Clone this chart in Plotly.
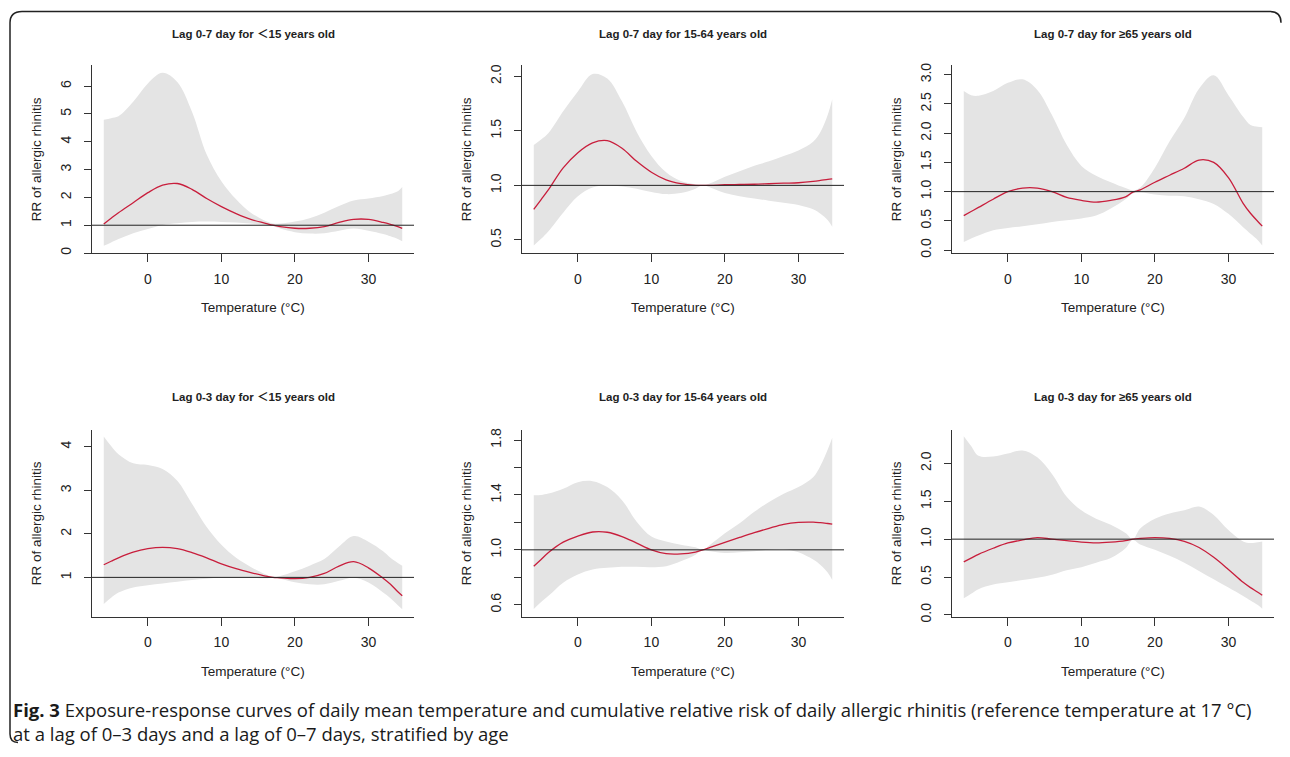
import plotly.graph_objects as go

# ---------------- data ----------------
TEMP = [-6, -5, -4, -2, 0, 2, 4, 6, 8, 10, 12, 14, 16, 17, 18, 20, 22, 24, 26, 28, 30, 32, 33, 34, 34.6]

# Lag 0-7, <15 years
rr_07_u15 = [1.04, 1.25, 1.45, 1.81, 2.17, 2.44, 2.50, 2.29, 1.96, 1.67, 1.42, 1.21, 1.07, 1.00, 0.95, 0.89, 0.89, 0.95, 1.10, 1.21, 1.21, 1.10, 1.03, 0.95, 0.89]
hi_07_u15 = [4.79, 4.85, 4.92, 5.44, 6.10, 6.48, 6.15, 5.08, 3.54, 2.58, 1.93, 1.45, 1.15, 1.06, 1.06, 1.13, 1.25, 1.45, 1.69, 1.89, 1.96, 2.05, 2.12, 2.22, 2.37]
lo_07_u15 = [0.26, 0.38, 0.50, 0.71, 0.86, 1.01, 1.07, 1.12, 1.13, 1.12, 1.10, 1.06, 1.01, 0.97, 0.88, 0.75, 0.70, 0.71, 0.80, 0.88, 0.80, 0.68, 0.60, 0.50, 0.42]

# Lag 0-7, 15-64 years
rr_07_mid = [0.78, 0.87, 0.96, 1.16, 1.30, 1.39, 1.41, 1.34, 1.22, 1.12, 1.05, 1.015, 1.00, 1.00, 1.00, 1.006, 1.008, 1.01, 1.015, 1.02, 1.024, 1.036, 1.045, 1.055, 1.06]
hi_07_mid = [1.37, 1.42, 1.48, 1.68, 1.86, 2.02, 1.98, 1.77, 1.49, 1.27, 1.12, 1.04, 1.01, 1.00, 1.02, 1.08, 1.13, 1.18, 1.22, 1.27, 1.32, 1.40, 1.49, 1.65, 1.79]
lo_07_mid = [0.45, 0.51, 0.58, 0.75, 0.90, 0.98, 1.00, 0.99, 0.97, 0.94, 0.92, 0.93, 0.97, 1.00, 0.98, 0.93, 0.90, 0.88, 0.86, 0.84, 0.82, 0.78, 0.74, 0.68, 0.62]

# Lag 0-7, >=65 years
rr_07_old = [0.59, 0.66, 0.73, 0.87, 1.00, 1.06, 1.06, 1.00, 0.90, 0.85, 0.82, 0.85, 0.91, 0.99, 1.03, 1.16, 1.28, 1.40, 1.54, 1.50, 1.24, 0.80, 0.63, 0.49, 0.41]
hi_07_old = [2.72, 2.65, 2.64, 2.72, 2.86, 2.92, 2.74, 2.31, 1.80, 1.44, 1.27, 1.16, 1.06, 1.02, 1.07, 1.41, 1.86, 2.26, 2.76, 2.99, 2.65, 2.28, 2.14, 2.11, 2.10]
lo_07_old = [0.14, 0.20, 0.25, 0.34, 0.38, 0.41, 0.44, 0.48, 0.51, 0.54, 0.59, 0.71, 0.87, 0.97, 0.99, 0.95, 0.93, 0.92, 0.87, 0.79, 0.62, 0.39, 0.28, 0.17, 0.08]

# Lag 0-3, <15 years
rr_03_u15 = [1.29, 1.37, 1.45, 1.58, 1.66, 1.69, 1.66, 1.57, 1.45, 1.31, 1.20, 1.11, 1.03, 1.00, 0.99, 0.97, 1.00, 1.09, 1.26, 1.36, 1.22, 0.98, 0.84, 0.67, 0.58]
hi_03_u15 = [4.24, 4.02, 3.83, 3.62, 3.58, 3.49, 3.22, 2.69, 2.16, 1.75, 1.45, 1.24, 1.07, 1.00, 1.03, 1.14, 1.27, 1.42, 1.71, 1.95, 1.82, 1.60, 1.45, 1.33, 1.27]
lo_03_u15 = [0.39, 0.53, 0.65, 0.77, 0.82, 0.86, 0.90, 0.94, 0.97, 0.99, 0.99, 0.99, 0.98, 1.00, 0.97, 0.89, 0.84, 0.84, 0.92, 0.99, 0.88, 0.65, 0.52, 0.36, 0.27]

# Lag 0-3, 15-64 years
rr_03_mid = [0.88, 0.93, 0.98, 1.056, 1.10, 1.13, 1.128, 1.097, 1.049, 1.00, 0.972, 0.97, 0.984, 1.00, 1.018, 1.054, 1.09, 1.125, 1.157, 1.186, 1.20, 1.202, 1.198, 1.192, 1.188]
hi_03_mid = [1.397, 1.40, 1.41, 1.445, 1.493, 1.50, 1.457, 1.361, 1.205, 1.097, 1.061, 1.037, 1.018, 1.00, 1.037, 1.12, 1.193, 1.277, 1.349, 1.409, 1.457, 1.529, 1.613, 1.733, 1.817]
lo_03_mid = [0.569, 0.62, 0.665, 0.761, 0.821, 0.857, 0.869, 0.876, 0.876, 0.874, 0.881, 0.917, 0.965, 1.00, 0.989, 0.977, 0.982, 0.989, 1.00, 1.006, 0.982, 0.929, 0.89, 0.833, 0.78]

# Lag 0-3, >=65 years
rr_03_old = [0.70, 0.75, 0.80, 0.88, 0.95, 0.99, 1.02, 1.00, 0.98, 0.96, 0.95, 0.96, 0.98, 1.00, 1.01, 1.02, 1.01, 0.97, 0.89, 0.76, 0.60, 0.43, 0.36, 0.30, 0.26]
hi_03_old = [2.36, 2.23, 2.10, 2.09, 2.13, 2.17, 2.08, 1.86, 1.56, 1.38, 1.27, 1.19, 1.08, 1.00, 1.14, 1.27, 1.34, 1.38, 1.43, 1.32, 1.12, 0.97, 0.95, 0.96, 0.97]
lo_03_old = [0.22, 0.28, 0.34, 0.40, 0.43, 0.46, 0.49, 0.53, 0.59, 0.63, 0.69, 0.75, 0.88, 0.99, 0.93, 0.86, 0.78, 0.69, 0.58, 0.47, 0.36, 0.25, 0.19, 0.13, 0.08]

TITLES = [
    "Lag 0-7 day for \uff1c15 years old", "Lag 0-7 day for 15-64 years old", "Lag 0-7 day for \u226565 years old",
    "Lag 0-3 day for \uff1c15 years old", "Lag 0-3 day for 15-64 years old", "Lag 0-3 day for \u226565 years old",
]
X_TICKS = [0, 10, 20, 30]
Y_TICKS = [
    ([0, 1, 2, 3, 4, 5, 6], ["0", "1", "2", "3", "4", "5", "6"]),
    ([0.5, 1.0, 1.5, 2.0], ["0.5", "1.0", "1.5", "2.0"]),
    ([0, 0.5, 1.0, 1.5, 2.0, 2.5, 3.0], ["0.0", "0.5", "1.0", "1.5", "2.0", "2.5", "3.0"]),
    ([1, 2, 3, 4], ["1", "2", "3", "4"]),
    ([0.6, 0.8, 1.0, 1.2, 1.4, 1.6, 1.8], ["0.6", "", "1.0", "", "1.4", "", "1.8"]),
    ([0, 0.5, 1.0, 1.5, 2.0], ["0.0", "0.5", "1.0", "1.5", "2.0"]),
]
Y_RANGES = [[0.0, 6.75], [0.38, 2.10], [-0.05, 3.16], [0.10, 4.39], [0.514, 1.874], [-0.022, 2.443]]
X_RANGE = [-7.6, 36.2]
X_TITLE = "Temperature (\u00b0C)"
Y_TITLE = "RR of allergic rhinitis"
CAPTION = ("<b>Fig. 3</b> Exposure-response curves of daily mean temperature and cumulative relative risk of daily "
           "allergic rhinitis (reference temperature at 17 \u00b0C)<br>at a lag of 0\u20133 days and a lag of 0\u20137 days, stratified by age")

PANELS = [
    (rr_07_u15, lo_07_u15, hi_07_u15), (rr_07_mid, lo_07_mid, hi_07_mid), (rr_07_old, lo_07_old, hi_07_old),
    (rr_03_u15, lo_03_u15, hi_03_u15), (rr_03_mid, lo_03_mid, hi_03_mid), (rr_03_old, lo_03_old, hi_03_old),
]

# ---------------- layout ----------------
# the page body has an 8px margin on every side; keep the figure inside the window
OFF = 8
W, H = 1290 - 2 * OFF, 757 - 2 * OFF
COLS = [(92, 414), (522, 844), (952, 1274)]
ROWS = [(63, 253), (432, 621)]
FONT = "Liberation Sans, Arial, Noto Sans CJK SC, sans-serif"
AX = "#333333"
TXT = "#222222"

def px(x):
    return (x - OFF) / W

def py(y):
    return 1 - (y - OFF) / H

fig = go.Figure()
layout = dict(
    width=W, height=H, margin=dict(l=0, r=0, t=0, b=0),
    paper_bgcolor="white", plot_bgcolor="white", showlegend=False,
    font=dict(family=FONT, color=TXT),
)
annotations = []
shapes = []

for i, (rr, lo, hi) in enumerate(PANELS):
    r, c = divmod(i, 3)
    n = "" if i == 0 else str(i + 1)
    xa, ya = "x" + n, "y" + n
    x0, x1 = COLS[c]
    y0, y1 = ROWS[r]
    fig.add_trace(go.Scatter(x=TEMP, y=lo, xaxis=xa, yaxis=ya, mode="lines",
                             line=dict(width=0, shape="spline", smoothing=1.0), hoverinfo="skip"))
    fig.add_trace(go.Scatter(x=TEMP, y=hi, xaxis=xa, yaxis=ya, mode="lines", fill="tonexty",
                             fillcolor="#e4e4e4", line=dict(width=0, shape="spline", smoothing=1.0), hoverinfo="skip"))
    fig.add_trace(go.Scatter(x=TEMP, y=rr, xaxis=xa, yaxis=ya, mode="lines",
                             line=dict(color="#c81e3c", width=1.3, shape="spline", smoothing=1.0)))
    tv, tt = Y_TICKS[i]
    layout["xaxis" + n] = dict(
        domain=[px(x0), px(x1)], anchor=ya, range=X_RANGE, tickvals=X_TICKS,
        ticks="outside", ticklen=8, tickcolor=AX, showline=True, linecolor=AX, linewidth=1,
        showgrid=False, zeroline=False, tickfont=dict(size=14, color=TXT), ticklabelstandoff=5,
    )
    layout["yaxis" + n] = dict(
        domain=[py(y1), py(y0)], anchor=xa, range=Y_RANGES[i], tickvals=tv, ticktext=tt,
        tickangle=-90, ticks="outside", ticklen=7, tickcolor=AX, showline=True, linecolor=AX, linewidth=1,
        showgrid=False, zeroline=False, tickfont=dict(size=14, color=TXT), ticklabelstandoff=7,
    )
    shapes.append(dict(type="line", xref=xa + " domain", yref=ya, x0=0, x1=1, y0=1, y1=1,
                       line=dict(color="#222222", width=1)))
    cx = (x0 + x1) / 2
    title_y = 31 if r == 0 else 399
    xt_y = 308 if r == 0 else 677
    annotations.append(dict(text="<b>" + TITLES[i] + "</b>", xref="paper", yref="paper", x=px(cx), y=py(title_y),
                            xanchor="center", yanchor="middle", showarrow=False, font=dict(size=11.5, color=TXT)))
    annotations.append(dict(text=X_TITLE, xref="paper", yref="paper", x=px(cx), y=py(xt_y),
                            xanchor="center", yanchor="middle", showarrow=False, font=dict(size=13.5, color=TXT)))
    annotations.append(dict(text=Y_TITLE, xref="paper", yref="paper", x=px(36 + 430 * c), y=py((y0 + y1) / 2),
                            xanchor="center", yanchor="middle", textangle=-90, showarrow=False,
                            font=dict(size=13.5, color=TXT)))

annotations.append(dict(text=CAPTION, xref="paper", yref="paper", x=px(11), y=py(727), xanchor="left",
                        yanchor="middle", align="left", showarrow=False,
                        font=dict(family="Open Sans, sans-serif", size=18.5, color="#1a1a1a")))

# frame (rounded corners, top and left sides)
def P(x, y):
    return f"{px(x):.5f},{py(y):.5f}"

frame_path = ("M " + P(1281, 20) + " Q " + P(1281, 8.5) + " " + P(1270, 8.5) + " L " + P(22, 8.5) +
              " Q " + P(10, 8.5) + " " + P(10, 20) + " L " + P(10, 740) + " Q " + P(10, 748.5) + " " + P(18, 748.5))
shapes.append(dict(type="path", xref="paper", yref="paper", path=frame_path, line=dict(color="#222222", width=1.5)))

layout["annotations"] = annotations
layout["shapes"] = shapes
fig.update_layout(**layout)
fig.write_html("out.html")
